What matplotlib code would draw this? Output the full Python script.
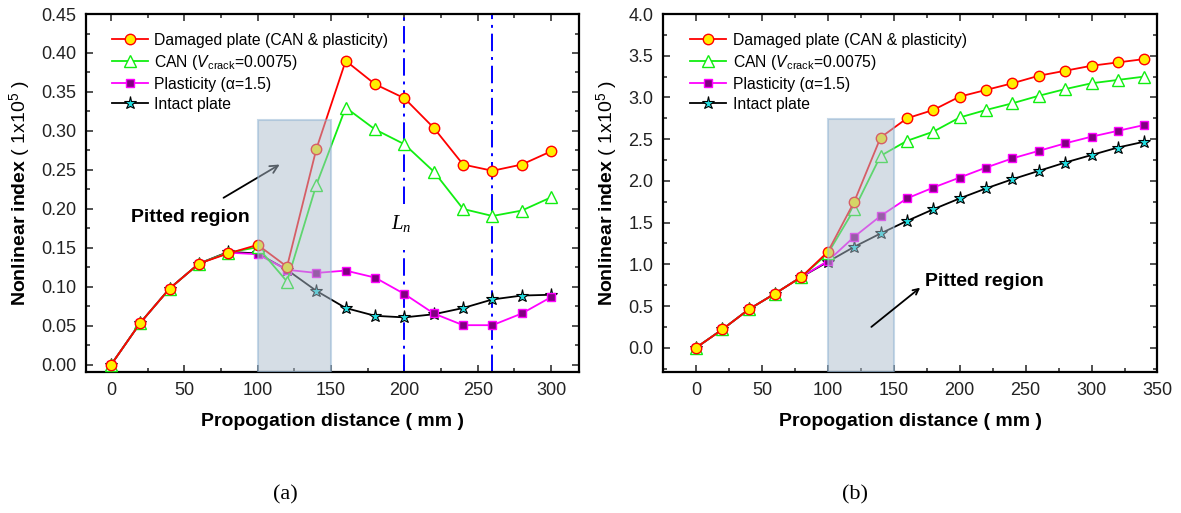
import matplotlib
matplotlib.use('Agg')
import matplotlib.pyplot as plt
from matplotlib.patches import Rectangle
from matplotlib.ticker import MultipleLocator, FormatStrFormatter

plt.rcParams['font.family'] = ['Liberation Sans', 'DejaVu Sans']
plt.rcParams['mathtext.fontset'] = 'custom'
plt.rcParams['mathtext.rm'] = 'Liberation Sans'
plt.rcParams['mathtext.bf'] = 'Liberation Sans:bold'
plt.rcParams['mathtext.sf'] = 'Liberation Sans:italic'
plt.rcParams['mathtext.it'] = 'Liberation Serif:italic'

# ---- data: panel (a) ----
dist_a = [0, 20, 40, 60, 80, 100, 120, 140, 160, 180, 200, 220, 240, 260, 280, 300]
damaged_a = [0, 0.054, 0.098, 0.130, 0.143, 0.154, 0.126, 0.277, 0.390, 0.360, 0.342,
             0.304, 0.257, 0.249, 0.257, 0.274]
can_a = [0, 0.054, 0.098, 0.130, 0.144, 0.151, 0.107, 0.231, 0.330, 0.302, 0.283,
         0.248, 0.200, 0.191, 0.198, 0.215]
plast_a = [0, 0.054, 0.098, 0.130, 0.144, 0.142, 0.122, 0.118, 0.121, 0.112, 0.091,
           0.066, 0.051, 0.051, 0.066, 0.087]
intact_a = [0, 0.054, 0.098, 0.130, 0.145, 0.143, 0.122, 0.095, 0.073, 0.063, 0.061,
            0.065, 0.073, 0.084, 0.089, 0.090]

# ---- data: panel (b) ----
dist_b = [0, 20, 40, 60, 80, 100, 120, 140, 160, 180, 200, 220, 240, 260, 280, 300, 320, 340]
damaged_b = [0, 0.22, 0.46, 0.65, 0.85, 1.15, 1.75, 2.52, 2.75, 2.85, 3.01, 3.09, 3.17,
             3.26, 3.32, 3.38, 3.42, 3.46]
can_b = [0, 0.22, 0.46, 0.65, 0.85, 1.13, 1.66, 2.30, 2.48, 2.59, 2.76, 2.85, 2.93,
         3.02, 3.10, 3.17, 3.21, 3.25]
plast_b = [0, 0.22, 0.46, 0.65, 0.85, 1.04, 1.33, 1.58, 1.79, 1.92, 2.04, 2.16, 2.27,
           2.36, 2.45, 2.53, 2.60, 2.67]
intact_b = [0, 0.22, 0.46, 0.65, 0.85, 1.03, 1.21, 1.37, 1.52, 1.66, 1.79, 1.91, 2.02,
            2.12, 2.22, 2.31, 2.40, 2.47]

labels = ['Damaged plate (CAN & plasticity)',
          r'CAN ($\mathsf{V}_{\rm crack}$=0.0075)',
          'Plasticity (α=1.5)',
          'Intact plate']

pitted = (100, 150)   # pitted region along propagation distance
ln_lines = [200, 260]

fig = plt.figure(figsize=(11.81, 5.13), dpi=100)
ax_a = fig.add_axes([0.0728, 0.2749, 0.4175, 0.6978])
ax_b = fig.add_axes([0.5614, 0.2749, 0.4187, 0.6978])


def draw_series(ax, x, dmg, can, pl, inn):
    h4, = ax.plot(x, inn, '-', color='black', lw=1.3, marker='*', ms=9.5,
                  mfc='#22dde0', mec='black', mew=0.8, zorder=3)
    h3, = ax.plot(x, pl, '-', color='#ff00ff', lw=1.3, marker='s', ms=5.5,
                  mfc='#800080', mec='#ff00ff', mew=1.0, zorder=4)
    h2, = ax.plot(x, can, '-', color='#11ee11', lw=1.3, marker='^', ms=8,
                  mfc='white', mec='#11ee11', mew=1.0, zorder=5)
    h1, = ax.plot(x, dmg, '-', color='#ff0000', lw=1.3, marker='o', ms=7.5,
                  mfc='#ffee00', mec='#ff0000', mew=1.0, zorder=6)
    return [h1, h2, h3, h4]


def style_axes(ax, major_y, minor_y):
    ax.xaxis.set_major_locator(MultipleLocator(50))
    ax.xaxis.set_minor_locator(MultipleLocator(25))
    ax.yaxis.set_major_locator(MultipleLocator(major_y))
    ax.yaxis.set_minor_locator(MultipleLocator(minor_y))
    ax.tick_params(which='both', direction='in', top=True, right=True,
                   labelsize=13, width=1.1, colors='#222222')
    ax.tick_params(which='major', length=5, pad=7)
    ax.tick_params(which='minor', length=3)
    for s in ax.spines.values():
        s.set_linewidth(1.6)
    ax.set_xlabel('Propogation distance ( mm )', fontsize=14, fontweight='bold',
                  labelpad=10)
    ax.set_ylabel(r'$\mathbf{Nonlinear\ index}$ ( 1x10$^{5}$ )', fontsize=14,
                  labelpad=6)


# ---- panel (a) ----
handles = draw_series(ax_a, dist_a, damaged_a, can_a, plast_a, intact_a)
ax_a.set_xlim(-17, 319)
ax_a.set_ylim(-0.009, 0.45)
style_axes(ax_a, 0.05, 0.025)
ax_a.yaxis.set_major_formatter(FormatStrFormatter('%.2f'))
ax_a.add_patch(Rectangle((pitted[0], -0.009), pitted[1] - pitted[0], 0.323,
                         facecolor='#adbdcd', alpha=0.5, edgecolor='#8fb3d3',
                         lw=1.5, zorder=7))
dashdot = (0, (9, 3, 1.5, 3))
ax_a.vlines(ln_lines[0], -0.009, 0.148, colors='#0000ff', linestyles=dashdot, lw=1.4, zorder=2)
ax_a.vlines(ln_lines[0], 0.207, 0.45, colors='#0000ff', linestyles=dashdot, lw=1.4, zorder=2)
ax_a.vlines(ln_lines[1], -0.009, 0.45, colors='#0000ff', linestyles=dashdot, lw=1.4, zorder=2)
ax_a.text(198, 0.182, r'$L_n$', fontsize=15, ha='center', va='center')
ax_a.annotate('Pitted region', xy=(115, 0.257), xytext=(54, 0.189),
              fontsize=14, fontweight='bold', ha='center', va='center',
              arrowprops=dict(arrowstyle='->', color='black', lw=1.3,
                              shrinkA=12, shrinkB=0))
ax_a.legend(handles, labels, loc='upper left', bbox_to_anchor=(0.053, 0.948),
            frameon=False, fontsize=11.3, handlelength=2.3, handletextpad=0.4,
            labelspacing=0.32, borderpad=0, borderaxespad=0)

# ---- panel (b) ----
handles = draw_series(ax_b, dist_b, damaged_b, can_b, plast_b, intact_b)
ax_b.set_xlim(-25, 350)
ax_b.set_ylim(-0.29, 4.0)
style_axes(ax_b, 0.5, 0.25)
ax_b.yaxis.set_major_formatter(FormatStrFormatter('%.1f'))
ax_b.add_patch(Rectangle((pitted[0], -0.29), pitted[1] - pitted[0], 3.03,
                         facecolor='#adbdcd', alpha=0.5, edgecolor='#8fb3d3',
                         lw=1.5, zorder=7))
ax_b.text(219, 0.80, 'Pitted region', fontsize=14, fontweight='bold',
          ha='center', va='center', zorder=8)
ax_b.annotate('', xy=(170, 0.72), xytext=(133, 0.25),
              arrowprops=dict(arrowstyle='->', color='black', lw=1.3,
                              shrinkA=0, shrinkB=0), zorder=8)
ax_b.legend(handles, labels, loc='upper left', bbox_to_anchor=(0.055, 0.948),
            frameon=False, fontsize=11.3, handlelength=2.3, handletextpad=0.4,
            labelspacing=0.32, borderpad=0, borderaxespad=0)

fig.text(285 / 1181, 1 - 495 / 513, '(a)', fontsize=16, family='Liberation Serif',
         ha='center', va='center')
fig.text(855 / 1181, 1 - 495 / 513, '(b)', fontsize=16, family='Liberation Serif',
         ha='center', va='center')

fig.savefig('out.png', dpi=100, facecolor='white')
